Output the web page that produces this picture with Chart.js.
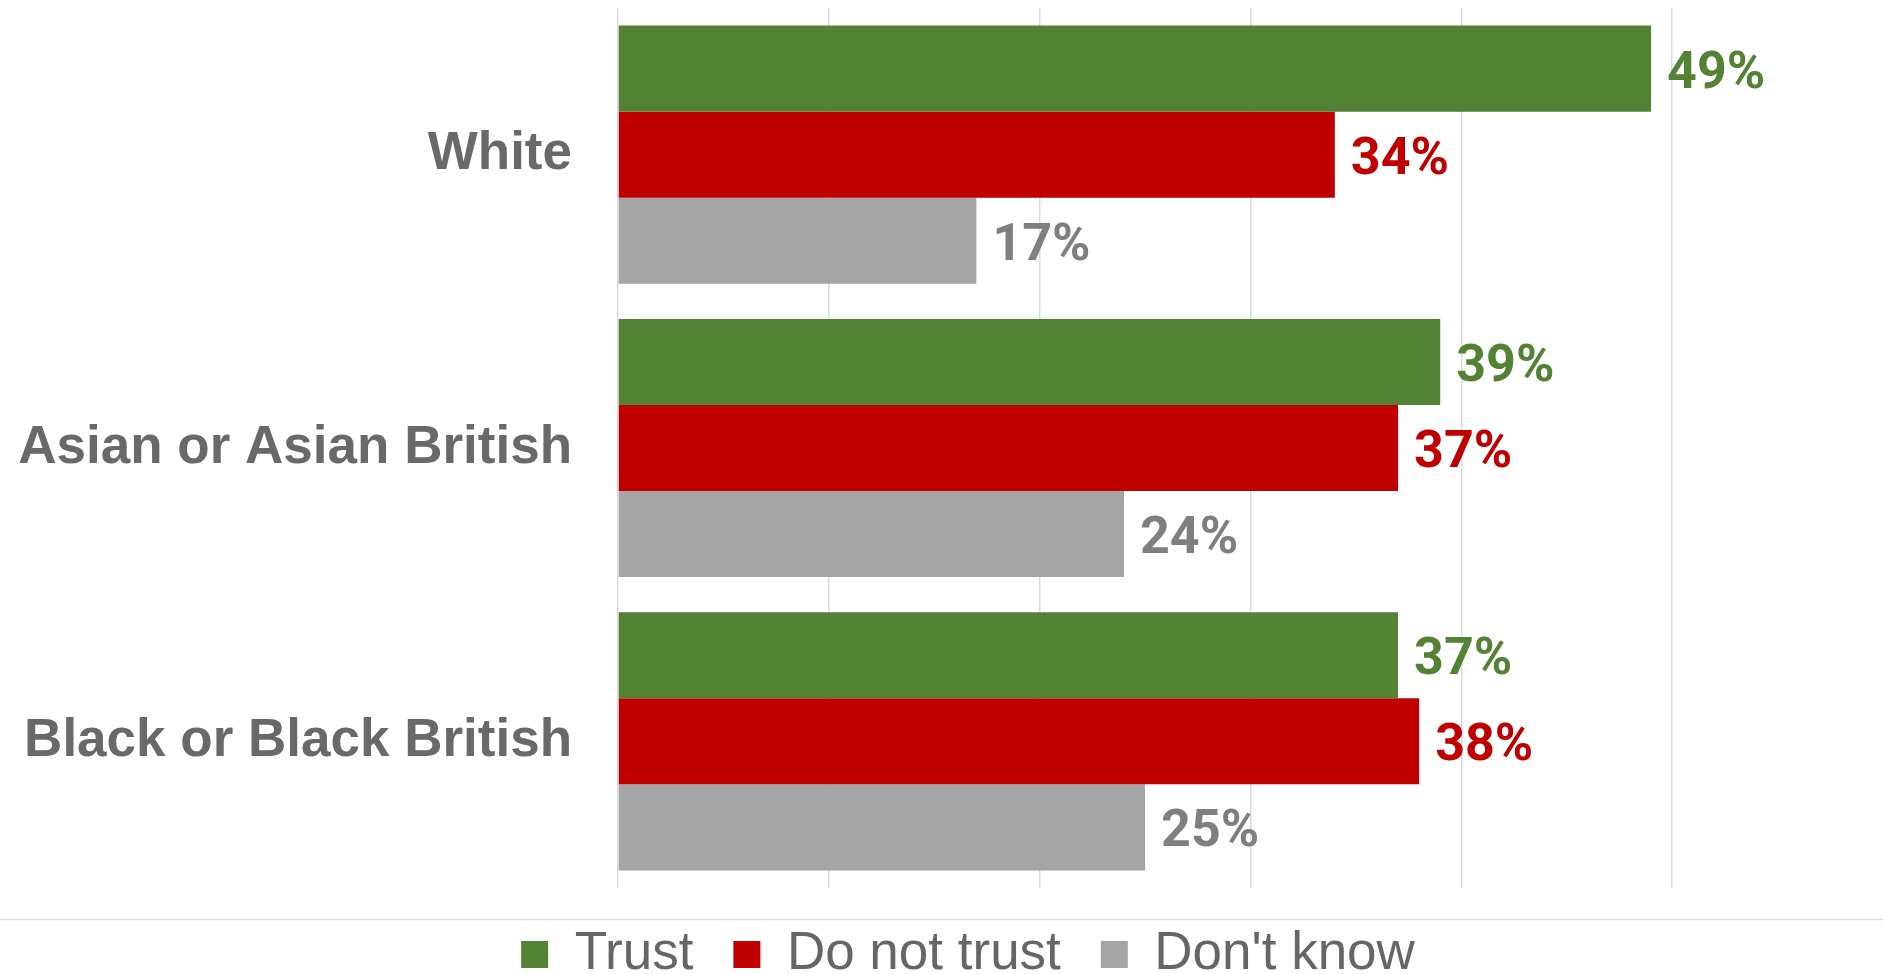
<!DOCTYPE html>
<html><head><meta charset="utf-8">
<script src="https://cdn.jsdelivr.net/npm/chart.js@4/dist/chart.umd.min.js"></script>
<style>html,body{margin:0;padding:0;background:#fff;overflow:hidden}</style></head>
<body><canvas id="c" width="1883" height="974"></canvas>
<script>
const categories = ['White', 'Asian or Asian British', 'Black or Black British'];
const seriesNames = ['Trust', 'Do not trust', "Don't know"];
const trust = [49, 39, 37];
const doNotTrust = [34, 37, 38];
const dontKnow = [17, 24, 25];
const xTickValues = [0, 10, 20, 30, 40, 50, 60];

const barColors = ['#548235', '#C00000', '#A5A5A5'];
const labelColors = ['#548235', '#C00000', '#7F7F7F'];

const valueLabels = {
  id: 'valueLabels',
  afterDatasetsDraw(chart) {
    const ctx = chart.ctx;
    ctx.save();
    ctx.font = 'bold 52px Roboto';
    ctx.textBaseline = 'middle';
    ctx.textAlign = 'left';
    chart.data.datasets.forEach((ds, i) => {
      const meta = chart.getDatasetMeta(i);
      meta.data.forEach((bar, j) => {
        ctx.fillStyle = labelColors[i];
        ctx.fillText(ds.data[j] + '%', bar.x + 16, bar.y + 6);
      });
    });
    ctx.restore();
  }
};

const separator = {
  id: 'separator',
  afterLayout(chart) {
    // centre the legend row a little to the right, as in the source
    chart.legend.left = 53;
  },
  afterDraw(chart) {
    const ctx = chart.ctx;
    const y = chart.legend.top + 31.5;
    ctx.save();
    ctx.strokeStyle = '#d9d9d9';
    ctx.lineWidth = 1.5;
    ctx.beginPath();
    ctx.moveTo(0, y);
    ctx.lineTo(chart.width, y);
    ctx.stroke();
    ctx.restore();
  }
};

new Chart(document.getElementById('c'), {
  type: 'bar',
  data: {
    labels: categories,
    datasets: [
      { label: seriesNames[0], data: trust, backgroundColor: barColors[0], borderWidth: 0 },
      { label: seriesNames[1], data: doNotTrust, backgroundColor: barColors[1], borderWidth: 0 },
      { label: seriesNames[2], data: dontKnow, backgroundColor: barColors[2], borderWidth: 0 }
    ]
  },
  options: {
    indexAxis: 'y',
    responsive: false,
    animation: false,
    layout: { padding: { left: 0, top: 8, right: 0, bottom: 0 } },
    datasets: { bar: { barPercentage: 1.0, categoryPercentage: 0.88 } },
    scales: {
      x: {
        min: 0, max: 60,
        afterBuildTicks(scale) { scale.ticks = xTickValues.map(v => ({ value: v })); },
        ticks: { display: false },
        border: { display: false },
        grid: {
          drawTicks: false,
          lineWidth: 1.5,
          color: (c) => (c.tick && c.tick.value === 60) ? 'rgba(0,0,0,0)' : '#d9d9d9'
        }
      },
      y: {
        afterFit(scale) { scale.width = 618; scale.paddingTop = 0; scale.paddingBottom = 0; },
        border: { display: false },
        grid: { display: false, drawTicks: false },
        ticks: {
          padding: 46,
          color: '#696969',
          font: { family: '"Liberation Sans", Arial, sans-serif', size: 53, weight: 'bold' }
        }
      }
    },
    plugins: {
      tooltip: { enabled: false },
      legend: {
        position: 'bottom',
        maxHeight: 86,
        labels: {
          boxWidth: 27,
          boxHeight: 27,
          padding: 40,
          color: '#666666',
          font: { family: '"Liberation Sans", Arial, sans-serif', size: 53 }
        }
      }
    }
  },
  plugins: [valueLabels, separator]
});
</script>
</body></html>
